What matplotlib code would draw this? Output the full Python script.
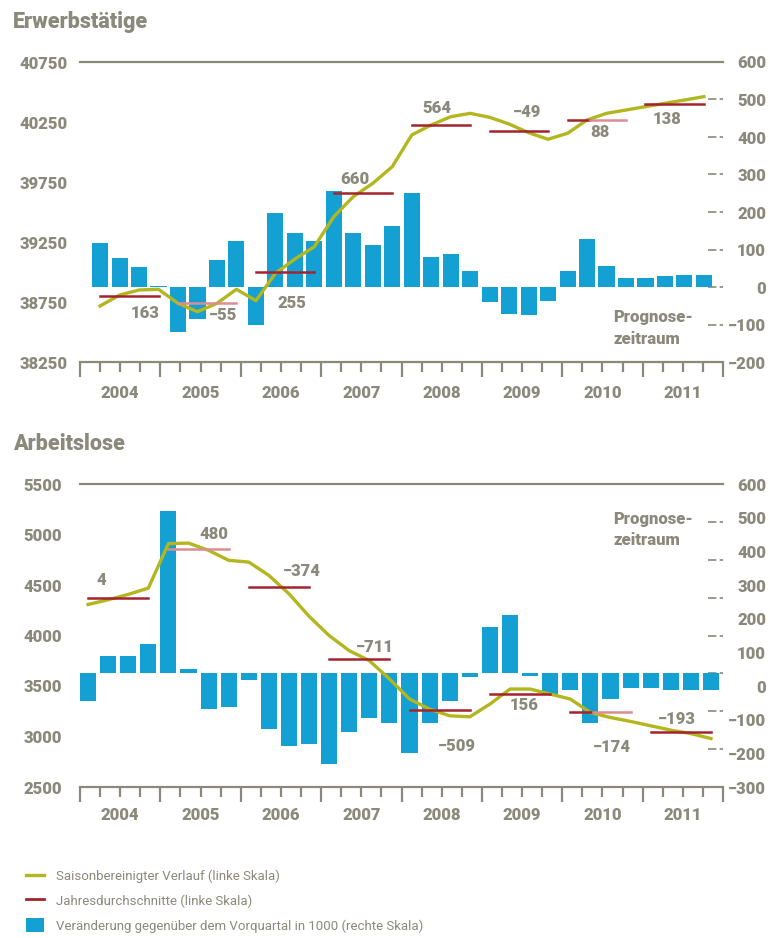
"""Erwerbstaetige / Arbeitslose - quarterly changes, trend and annual averages."""

import numpy as np
import matplotlib
matplotlib.use('Agg')
import matplotlib.pyplot as plt
from matplotlib.lines import Line2D
from matplotlib.patches import Patch

plt.rcParams['font.family'] = ['Roboto', 'DejaVu Sans']

years = ['2004', '2005', '2006', '2007', '2008', '2009', '2010', '2011']

# Erwerbstaetige (in 1000)
emp_change = [116, 78, 54, 3, -119, -85, 72, 123, -101, 197, 143, 123, 256, 143, 112, 163,
              250, 81, 88, 44, -39, -72, -75, -36, 44, 128, 56, 23, 23, 29, 32, 32]
emp_trend = [38717, 38808, 38850, 38856, 38739, 38669, 38739, 38856,
             38761, 38989, 39108, 39211, 39461, 39628, 39739, 39878,
             40142, 40225, 40294, 40322, 40289, 40233, 40161, 40106,
             40156, 40267, 40322, 40350, 40378, 40406, 40433, 40461]
emp_avg = [38800, 38745, 39000, 39660, 40224, 40175, 40263, 40401]
emp_avg_labels = ['163', '\u221255', '255', '660', '564', '\u221249', '88', '138']

# Arbeitslose (in 1000)
unemp_change = [-73, 47, 45, 78, 430, 12, -93, -89, -18, -148, -191, -187, -238, -154, -117, -131,
                -209, -131, -73, -10, 122, 153, -6, -56, -43, -131, -67, -39, -39, -45, -45, -45]
unemp_trend = [4307, 4354, 4407, 4469, 4910, 4915, 4843, 4744,
               4727, 4595, 4413, 4190, 3999, 3850, 3751, 3570,
               3371, 3271, 3205, 3195, 3321, 3470, 3470, 3420,
               3371, 3238, 3188, 3149, 3106, 3063, 3029, 2980]
unemp_avg = [4374, 4854, 4480, 3769, 3260, 3416, 3242, 3049]
unemp_avg_labels = ['4', '480', '\u2212374', '\u2212711', '\u2212509', '156', '\u2212174', '\u2212193']

legend_labels = ['Saisonbereinigter Verlauf (linke Skala)',
                 'Jahresdurchschnitte (linke Skala)',
                 'Ver\u00e4nderung gegen\u00fcber dem Vorquartal in 1000 (rechte Skala)']

GRAY = '#8a897b'
BLUE = '#14a0d3'
GREEN = '#b3b61e'
RED = '#a3232e'
PINK = '#dc8d92'
WEIGHT = 'heavy'

W, H = 770, 938

# label offsets in px (dx, dy) relative to centre of the annual line
emp_offsets = [(16, -17), (16, -12), (7, -31), (-8, 14), (-4, 17), (8, 19), (3, -12), (-8, -15)]
unemp_offsets = [(-17, 18), (15, 15), (23, 16), (16, 12), (17, -36), (4, -11), (11, -35), (-4, 13)]
avg_style = ['dark', 'pink', 'dark', 'dark', 'dark', 'dark', 'mixed', 'dark']


def setup_xaxis(ax, label_y):
    ax.set_xlim(0, 32)
    ax.set_xticks(np.arange(0, 33, 4))
    ax.set_xticks(np.arange(0, 33), minor=True)
    ax.tick_params(axis='x', which='major', length=11, width=1.6, color=GRAY, labelbottom=False)
    ax.tick_params(axis='x', which='minor', length=7.5, width=1.6, color=GRAY)
    for k, yr in enumerate(years):
        ax.text(4 * k + 2, label_y, yr, transform=ax.get_xaxis_transform(),
                ha='center', va='center', fontsize=12, fontweight=WEIGHT, color=GRAY)
    for side in ['left', 'right']:
        ax.spines[side].set_visible(False)
    for side in ['top', 'bottom']:
        ax.spines[side].set_color(GRAY)
        ax.spines[side].set_linewidth(1.6)


def draw_panel(rect, title, title_y, change, trend, avg, avg_labels, offsets,
               pos, bar_lim, left_lim, label_y, left_pad):
    ax = fig.add_axes(rect)
    ax.bar(pos, change, width=0.8, color=BLUE, zorder=2)
    ax.set_ylim(*bar_lim)
    setup_xaxis(ax, label_y)

    axl = ax.twinx()
    for s in axl.spines.values():
        s.set_visible(False)
    axl.yaxis.tick_left()
    axl.set_ylim(*left_lim)
    axl.set_yticks(np.arange(left_lim[0], left_lim[1] + 1, 500))
    axl.tick_params(axis='y', length=0, pad=left_pad, labelsize=12, labelcolor=GRAY)
    for lbl in axl.get_yticklabels():
        lbl.set_fontweight(WEIGHT)

    axl.plot(pos, trend, color=GREEN, lw=2.4, zorder=3)
    for k, val in enumerate(avg):
        x0, x1 = pos[4 * k], pos[4 * k + 3]
        if avg_style[k] == 'pink':
            axl.plot([x0, x1], [val, val], color=PINK, lw=1.8, zorder=4)
        elif avg_style[k] == 'mixed':
            xm = x0 + 0.38 * (x1 - x0)
            axl.plot([x0, xm], [val, val], color=RED, lw=1.8, zorder=4)
            axl.plot([xm, x1], [val, val], color=PINK, lw=1.8, zorder=4)
        else:
            axl.plot([x0, x1], [val, val], color=RED, lw=1.8, zorder=4)
        dx, dy = offsets[k]
        axl.annotate(avg_labels[k], xy=((x0 + x1) / 2, val), xytext=(dx * 0.72, dy * 0.72),
                     textcoords='offset points', ha='center', va='center',
                     fontsize=12, fontweight=WEIGHT, color=GRAY, zorder=5)

    fig.text(13 / W, title_y, title, ha='left', va='center', fontsize=15.5,
             fontweight=WEIGHT, color=GRAY)
    return ax, axl


fig = plt.figure(figsize=(W / 100, H / 100), dpi=100)
fig.patch.set_facecolor('white')

# ---- top panel: Erwerbstaetige
top_pos = np.linspace(1.0, 31.05, 32)
ax1, ax1l = draw_panel([80 / W, 1 - 362 / H, 643 / W, 300 / H], 'Erwerbst\u00e4tige', 1 - 22 / H,
                       emp_change, emp_trend, emp_avg, emp_avg_labels, emp_offsets,
                       top_pos, (-200, 600), (38250, 40750), -0.103, 9)
ax1.yaxis.tick_right()
ax1.set_yticks(np.arange(-200, 601, 100))
ax1.tick_params(axis='y', length=0, pad=31, labelsize=12, labelcolor=GRAY)
for lbl in ax1.get_yticklabels():
    lbl.set_ha('right')
    lbl.set_fontweight(WEIGHT)
ax1.hlines(np.arange(-100, 501, 100), 0.977, 1.0, transform=ax1.get_yaxis_transform(),
           colors=GRAY, lw=1.2, linestyles=(0, (5, 2)), zorder=1)
ax1.text(0.829, 0.113, 'Prognose-\nzeitraum', transform=ax1.transAxes, ha='left', va='center',
         linespacing=1.45, fontsize=12, fontweight=WEIGHT, color=GRAY)

# ---- bottom panel: Arbeitslose
bot_pos = np.arange(32) + 0.4
ax2, ax2l = draw_panel([80 / W, 1 - 787 / H, 643 / W, 303 / H], 'Arbeitslose', 1 - 444 / H,
                       unemp_change, unemp_trend, unemp_avg, unemp_avg_labels, unemp_offsets,
                       bot_pos, (-300, 500), (2500, 5500), -0.092, 13)
ax2.set_yticks([])
ax2.hlines(np.arange(-200, 401, 100), 0.977, 1.0, transform=ax2.get_yaxis_transform(),
           colors=GRAY, lw=1.2, linestyles=(0, (5, 2)), zorder=1)
ax2r = ax2.twinx()
for s in ax2r.spines.values():
    s.set_visible(False)
ax2r.set_ylim(-300, 600)
ax2r.set_yticks(np.arange(-300, 601, 100))
ax2r.tick_params(axis='y', length=0, pad=31, labelsize=12, labelcolor=GRAY)
for lbl in ax2r.get_yticklabels():
    lbl.set_ha('right')
    lbl.set_fontweight(WEIGHT)
ax2.text(0.829, 0.85, 'Prognose-\nzeitraum', transform=ax2.transAxes, ha='left', va='center',
         linespacing=1.45, fontsize=12, fontweight=WEIGHT, color=GRAY)

# ---- legend
handles = [Line2D([], [], color=GREEN, lw=2.4),
           Line2D([], [], color=RED, lw=2.0),
           Patch(facecolor=BLUE, edgecolor='none')]
leg = fig.legend(handles, legend_labels, loc='upper left', bbox_to_anchor=(26 / W, 1 - 869 / H),
                 frameon=False, fontsize=9.5, handlelength=1.35, handleheight=1.25,
                 handletextpad=0.9, labelspacing=0.78, borderpad=0, borderaxespad=0)
for t in leg.get_texts():
    t.set_color(GRAY)

fig.savefig('out.png', dpi=100, facecolor='white')
